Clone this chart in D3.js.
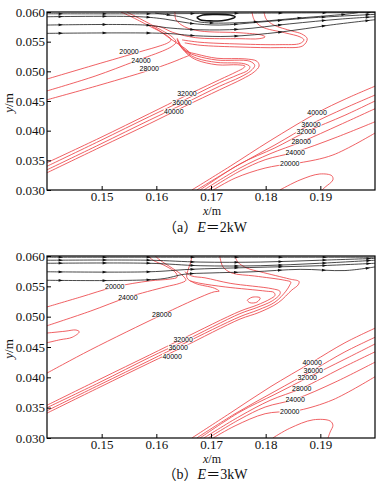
<!DOCTYPE html>
<html><head><meta charset="utf-8">
<script src="https://cdn.jsdelivr.net/npm/d3@7"></script>
<style>body{margin:0;background:#fff}svg{display:block}</style>
</head><body>
<svg id="c" width="381" height="483"></svg>
<script>
// ---------- axes ----------
const xDomain = [0.14, 0.20];
const yDomain = [0.030, 0.060];
const xTicks = [0.15, 0.16, 0.17, 0.18, 0.19];
const yTicks = [0.030, 0.035, 0.040, 0.045, 0.050, 0.055, 0.060];

// ---------- panel (a) E = 2 kW : temperature contours (x [m], y [m]) ----------
const a_c20 = [[.1400,.0487],[.1488,.0511],[.1570,.0533],[.1607,.0543],[.1621,.0548],[.1627,.0553],[.1620,.0560],[.1588,.0576],[.1552,.0593],[.1535,.0600]];
const a_c24 = [[.1400,.0467],[.1488,.0492],[.1561,.0517],[.1616,.0536],[.1630,.0543],[.1636,.0549],[.1629,.0558],[.1598,.0575],[.1561,.0593],[.1546,.0600]];
const a_c28 = [[.1400,.0452],[.1497,.0477],[.1601,.0506],[.1647,.0522],[.1662,.0529],[.1656,.0536],[.1640,.0546],[.1621,.0558],[.1603,.0570],[.1592,.0576],[.1607,.0575],[.1629,.0566],[.1652,.0560],[.1680,.0556],[.1753,.0555],[.1788,.0555],[.1799,.0558],[.1793,.0561],[.1753,.0565],[.1680,.0568],[.1652,.0575],[.1636,.0587],[.1634,.0600]];
const a_m32 = [[.1400,.0346],[.1497,.0388],[.1588,.0429],[.1652,.0458],[.1716,.0486],[.1746,.0499],[.1760,.0506],[.1762,.0509],[.1749,.0511],[.1711,.0511],[.1674,.0519],[.1658,.0528],[.1647,.0539],[.1640,.0549]];
const a_m36 = [[.1400,.0340],[.1497,.0383],[.1588,.0424],[.1652,.0452],[.1716,.0481],[.1749,.0494],[.1768,.0502],[.1771,.0508],[.1760,.0513],[.1711,.0515],[.1674,.0522],[.1658,.0530],[.1645,.0541],[.1640,.0551]];
const a_m40 = [[.1400,.0334],[.1497,.0377],[.1588,.0418],[.1652,.0446],[.1716,.0475],[.1753,.0490],[.1773,.0501],[.1780,.0510],[.1771,.0517],[.1711,.0519],[.1674,.0526],[.1656,.0533],[.1643,.0544],[.1638,.0554]];
const a_m44 = [[.1400,.0329],[.1497,.0372],[.1588,.0412],[.1652,.0441],[.1716,.0469],[.1757,.0487],[.1779,.0499],[.1788,.0509],[.1784,.0517],[.1762,.0521],[.1711,.0522],[.1674,.0529],[.1656,.0534],[.1645,.0544],[.1638,.0556]];
const a_t1 = [[.1775,.0600],[.1779,.0587],[.1793,.0575],[.1835,.0565],[.1863,.0558],[.1870,.0553],[.1863,.0547],[.1826,.0545],[.1753,.0546],[.1680,.0549],[.1647,.0553]];
const a_t2 = [[.1797,.0600],[.1801,.0588],[.1815,.0578],[.1848,.0568],[.1866,.0563],[.1876,.0555],[.1868,.0543],[.1826,.0540],[.1753,.0541],[.1680,.0544],[.1652,.0548]];
const a_r40 = [[.1665,.0300],[.1735,.0340],[.1808,.0383],[.1894,.0430],[.1945,.0453],[.2000,.0475]];
const a_r36 = [[.1674,.0300],[.1744,.0339],[.1817,.0376],[.1883,.0411],[.1945,.0438],[.2000,.0460]];
const a_r32 = [[.1680,.0300],[.1753,.0344],[.1817,.0371],[.1874,.0398],[.1945,.0426],[.2000,.0450]];
const a_r28 = [[.1687,.0300],[.1753,.0337],[.1808,.0361],[.1865,.0381],[.1936,.0410],[.2000,.0437]];
const a_r24 = [[.1695,.0300],[.1753,.0332],[.1799,.0351],[.1854,.0364],[.1927,.0388],[.2000,.0415]];
const a_r20 = [[.1704,.0300],[.1744,.0320],[.1799,.0337],[.1844,.0344],[.1863,.0346],[.1923,.0359],[.2000,.0396]];
const a_blob = [[.1826,.0300],[.1863,.0317],[.1899,.0327],[.1921,.0324],[.1923,.0317],[.1909,.0305],[.1903,.0300]];
// streamlines (a)
const a_s1 = [[.1400,.0597],[.1588,.0597],[.1771,.0598],[.2000,.0599]];
const a_s2 = [[.1400,.0592],[.1570,.0592],[.1616,.0588],[.1662,.0581],[.1716,.0578],[.1790,.0583],[.1881,.0590],[.2000,.0596]];
const a_s3 = [[.1400,.0578],[.1579,.0578],[.1625,.0573],[.1680,.0570],[.1753,.0571],[.1844,.0580],[.1936,.0588],[.2000,.0592]];
const a_s4 = [[.1400,.0564],[.1616,.0564],[.1671,.0560],[.1735,.0559],[.1826,.0566],[.1918,.0578],[.2000,.0587]];
const a_s5 = [[.1598,.0598],[.1643,.0592],[.1680,.0583],[.1753,.0582],[.1863,.0590],[.1954,.0597],[.1969,.0599]];
const a_vortex = [[.1674,.0591],[.1685,.0595],[.1707,.0596],[.1735,.0595],[.1744,.0592],[.1731,.0587],[.1698,.0585],[.1680,.0587],[.1674,.0591]];
// contour labels (a)
const a_labelText = ["20000","24000","28000","32000","36000","40000","40000","36000","32000","28000","24000","20000"];
const a_labelPos = [[.1550,.0534],[.1572,.0518],[.1587,.0504],[.1656,.0462],[.1647,.0448],[.1632,.0433],[.1894,.0430],[.1883,.0411],[.1874,.0398],[.1865,.0381],[.1854,.0364],[.1844,.0344]];

// ---------- panel (b) E = 3 kW ----------
const b_c20 = [[.1400,.0516],[.1460,.0532],[.1524,.0549],[.1588,.0559],[.1625,.0562],[.1638,.0565],[.1636,.0572],[.1616,.0584],[.1594,.0593],[.1585,.0600]];
const b_c24 = [[.1400,.0485],[.1479,.0509],[.1548,.0532],[.1616,.0549],[.1643,.0555],[.1654,.0560],[.1649,.0567],[.1629,.0580],[.1607,.0593],[.1598,.0600]];
const b_c24s = [[.1400,.0473],[.1433,.0476],[.1453,.0478],[.1459,.0475],[.1446,.0466],[.1424,.0462],[.1400,.0457]];
const b_c28 = [[.1400,.0407],[.1479,.0445],[.1610,.0503],[.1680,.0532],[.1706,.0541],[.1715,.0542],[.1706,.0547],[.1671,.0555],[.1656,.0564],[.1658,.0577],[.1663,.0590],[.1665,.0600]];
const b_m32 = [[.1400,.0354],[.1497,.0397],[.1588,.0437],[.1649,.0464],[.1753,.0509],[.1784,.0519],[.1808,.0529],[.1817,.0535],[.1815,.0540],[.1801,.0542],[.1726,.0549],[.1680,.0555],[.1662,.0559]];
const b_m36 = [[.1400,.0350],[.1497,.0392],[.1588,.0433],[.1649,.0459],[.1753,.0505],[.1784,.0515],[.1812,.0526],[.1826,.0537],[.1826,.0542],[.1812,.0546],[.1735,.0555],[.1689,.0564],[.1665,.0567],[.1652,.0574]];
const b_m40 = [[.1400,.0345],[.1497,.0388],[.1588,.0428],[.1649,.0455],[.1753,.0500],[.1786,.0511],[.1817,.0524],[.1837,.0542],[.1844,.0552],[.1846,.0557],[.1835,.0560],[.1780,.0567],[.1738,.0572],[.1722,.0582],[.1716,.0600]];
const b_m44 = [[.1400,.0341],[.1497,.0384],[.1588,.0424],[.1649,.0450],[.1753,.0496],[.1788,.0507],[.1823,.0523],[.1848,.0544],[.1859,.0552],[.1861,.0558],[.1844,.0562],[.1790,.0574],[.1766,.0580],[.1749,.0590],[.1744,.0600]];
const b_island = [[.1766,.0527],[.1775,.0532],[.1790,.0531],[.1784,.0524],[.1771,.0523],[.1766,.0527]];
const b_r40 = [[.1665,.0300],[.1735,.0341],[.1808,.0384],[.1885,.0425],[.1945,.0457],[.2000,.0481]];
const b_r36 = [[.1674,.0300],[.1744,.0340],[.1817,.0377],[.1887,.0412],[.1945,.0442],[.2000,.0466]];
const b_r32 = [[.1680,.0300],[.1753,.0343],[.1817,.0372],[.1876,.0399],[.1945,.0430],[.2000,.0455]];
const b_r28 = [[.1687,.0300],[.1753,.0336],[.1808,.0362],[.1866,.0382],[.1936,.0414],[.2000,.0442]];
const b_r24 = [[.1695,.0300],[.1753,.0331],[.1799,.0351],[.1854,.0364],[.1927,.0392],[.2000,.0425]];
const b_r20 = [[.1704,.0300],[.1744,.0320],[.1799,.0340],[.1844,.0344],[.1863,.0346],[.1923,.0363],[.2000,.0401]];
const b_blob = [[.1813,.0300],[.1844,.0316],[.1887,.0330],[.1918,.0328],[.1923,.0321],[.1918,.0310],[.1914,.0300]];
// streamlines (b)
const b_s1 = [[.1400,.0598],[.1680,.0598],[.2000,.0598]];
const b_s2 = [[.1400,.0593],[.1588,.0593],[.1680,.0590],[.1790,.0590],[.1899,.0593],[.2000,.0596]];
const b_s3 = [[.1400,.0588],[.1588,.0588],[.1680,.0584],[.1790,.0584],[.1899,.0588],[.2000,.0593]];
const b_s4 = [[.1400,.0574],[.1588,.0574],[.1662,.0578],[.1771,.0581],[.1899,.0584],[.2000,.0588]];
const b_s5 = [[.1400,.0560],[.1607,.0562],[.1652,.0570],[.1698,.0572],[.1777,.0574],[.1863,.0578],[.1945,.0576],[.2000,.0582]];
// contour labels (b)
const b_labelText = ["20000","24000","28000","32000","36000","40000","40000","36000","32000","28000","24000","20000"];
const b_labelPos = [[.1524,.0549],[.1548,.0532],[.1610,.0503],[.1649,.0463],[.1640,.0450],[.1629,.0435],[.1885,.0425],[.1887,.0412],[.1876,.0399],[.1866,.0382],[.1854,.0364],[.1844,.0344]];

const panels = [
  {id:"a", top:12, bottom:190, tag:"a", power:"2kW",
   contours:[a_c20,a_c24,a_c28,a_m32,a_m36,a_m40,a_m44,a_t1,a_t2,a_r40,a_r36,a_r32,a_r28,a_r24,a_r20,a_blob],
   streams:[a_s1,a_s2,a_s3,a_s4,a_s5], vortex:[a_vortex],
   labelText:a_labelText, labelPos:a_labelPos, capY:232},
  {id:"b", top:256, bottom:438, tag:"b", power:"3kW",
   contours:[b_c20,b_c24,b_c24s,b_c28,b_m32,b_m36,b_m40,b_m44,b_island,b_r40,b_r36,b_r32,b_r28,b_r24,b_r20,b_blob],
   streams:[b_s1,b_s2,b_s3,b_s4,b_s5], vortex:[],
   labelText:b_labelText, labelPos:b_labelPos, capY:479}
];

const svg = d3.select("#c");
const L = 47, R = 375;
const RED = "#ec4448";
const serif = "'Liberation Serif','Times New Roman',serif";

panels.forEach(p => {
  const x = d3.scaleLinear().domain(xDomain).range([L, R]);
  const y = d3.scaleLinear().domain(yDomain).range([p.bottom, p.top]);
  const line = d3.line().x(d => x(d[0])).y(d => y(d[1])).curve(d3.curveCatmullRom.alpha(0.5));

  svg.append("clipPath").attr("id", "clip" + p.id)
    .append("rect").attr("x", L).attr("y", p.top).attr("width", R - L).attr("height", p.bottom - p.top);
  const g = svg.append("g").attr("clip-path", `url(#clip${p.id})`);

  // red contours
  g.selectAll(".ct").data(p.contours).join("path")
    .attr("d", line).attr("fill", "none").attr("stroke", RED).attr("stroke-width", 0.85);

  // streamlines
  const sl = g.selectAll(".sl").data(p.streams).join("path")
    .attr("d", line).attr("fill", "none").attr("stroke", "#1a1a1a").attr("stroke-width", 0.8);
  g.selectAll(".vx").data(p.vortex).join("path")
    .attr("d", line).attr("fill", "none").attr("stroke", "#111").attr("stroke-width", 1.6);

  // arrows on streamlines
  sl.each(function () {
    const len = this.getTotalLength();
    for (let s = 14; s < len - 6; s += 44) {
      const a = this.getPointAtLength(s), b = this.getPointAtLength(s + 1);
      const ang = Math.atan2(b.y - a.y, b.x - a.x) * 180 / Math.PI;
      g.append("path").attr("d", "M-2.4,-1.4L2.0,0L-2.4,1.4Z").attr("fill", "#111")
        .attr("transform", `translate(${a.x},${a.y}) rotate(${ang})`);
    }
  });

  // contour labels
  p.labelText.forEach((t, i) => {
    const pos = p.labelPos[i];
    const tg = g.append("g");
    const tx = tg.append("text").attr("x", x(pos[0])).attr("y", y(pos[1]))
      .attr("text-anchor", "middle").attr("dominant-baseline", "central")
      .attr("font-family", "'Liberation Sans',Arial,sans-serif").attr("font-size", 7)
      .attr("fill", "#000").text(t);
    const bb = tx.node().getBBox();
    tg.insert("rect", "text").attr("x", bb.x - 0.5).attr("y", bb.y + 1).attr("width", bb.width + 1)
      .attr("height", bb.height - 2).attr("fill", "#fff");
  });

  // frame
  svg.append("rect").attr("x", L).attr("y", p.top).attr("width", R - L).attr("height", p.bottom - p.top)
    .attr("fill", "none").attr("stroke", "#000").attr("stroke-width", 1.2);

  // axes
  const ax = svg.append("g").attr("transform", `translate(0,${p.bottom})`)
    .call(d3.axisBottom(x).tickValues(xTicks).tickSize(-4).tickPadding(2).tickFormat(d3.format(".2f")));
  const ay = svg.append("g").attr("transform", `translate(${L},0)`)
    .call(d3.axisLeft(y).tickValues(yTicks).tickSize(-4).tickPadding(2).tickFormat(d3.format(".3f")));
  [ax, ay].forEach(a => {
    a.attr("font-family", null).attr("font-size", null);
    a.select(".domain").remove();
    a.selectAll("line").attr("stroke", "#000").attr("stroke-width", 1);
    a.selectAll("text").attr("font-family", serif).attr("font-size", 13).attr("fill", "#111");
  });

  // axis titles
  const xt = svg.append("text").attr("x", 212).attr("y", p.bottom + 25).attr("text-anchor", "middle")
    .attr("font-family", serif).attr("font-size", 12).attr("fill", "#111");
  xt.append("tspan").attr("font-style", "italic").text("x");
  xt.append("tspan").text("/m");
  const yt = svg.append("text").attr("transform", `translate(13,${(p.top + p.bottom) / 2 + 2}) rotate(-90)`)
    .attr("text-anchor", "middle").attr("font-family", serif).attr("font-size", 13).attr("fill", "#111");
  yt.append("tspan").attr("font-style", "italic").text("y");
  yt.append("tspan").text("/m");

  // caption
  const cap = svg.append("text").attr("x", 205).attr("y", p.capY).attr("text-anchor", "middle")
    .attr("font-family", serif + ",'Noto Sans CJK SC'").attr("font-size", 14).attr("fill", "#111");
  cap.append("tspan").text("（" + p.tag + "）");
  cap.append("tspan").attr("font-style", "italic").text("E");
  cap.append("tspan").text("＝" + p.power);
});
</script>
</body></html>
